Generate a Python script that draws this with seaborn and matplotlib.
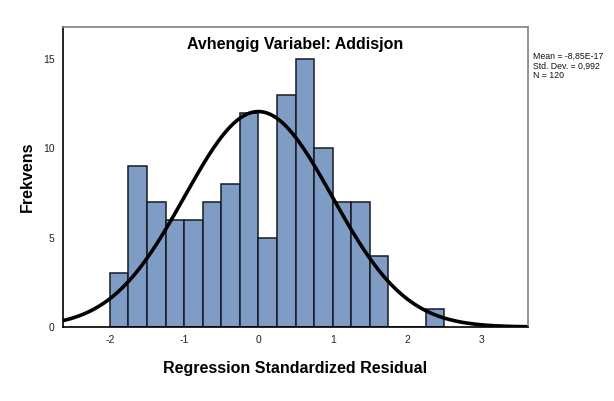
import numpy as np
import pandas as pd
import matplotlib
matplotlib.use("Agg")
import matplotlib.pyplot as plt
import seaborn as sns

# histogram bins (left edges, width 0.25) and counts
bin_left = [-2.0, -1.75, -1.5, -1.25, -1.0, -0.75, -0.5, -0.25, 0.0,
            0.25, 0.5, 0.75, 1.0, 1.25, 1.5, 1.75, 2.0, 2.25]
counts = [3, 9, 7, 6, 6, 7, 8, 12, 5, 13, 15, 10, 7, 7, 4, 0, 0, 1]
bin_width = 0.25

# summary stats shown at the right
mean = -8.85e-17
std = 0.992
n = 120

x_ticks = [-2, -1, 0, 1, 2, 3]
y_ticks = [0, 5, 10, 15]

sns.set_style("white")
plt.rcParams['font.family'] = ['Liberation Sans', 'DejaVu Sans']
plt.rcParams['axes.unicode_minus'] = False

df = pd.DataFrame({'mid': np.array(bin_left) + bin_width / 2, 'count': counts})
edges = list(bin_left) + [bin_left[-1] + bin_width]

fig = plt.figure(figsize=(6.14, 4.01), dpi=100)
ax = fig.add_axes([0.1026, 0.1845, 0.7574, 0.7482])

sns.histplot(data=df, x='mid', weights='count', bins=edges, ax=ax,
             color='#7f9cc4', alpha=1, edgecolor='#141a26', linewidth=1.1)

# normal curve scaled to counts
xs = np.linspace(-2.7, 3.7, 400)
ys = n * bin_width * np.exp(-0.5 * ((xs - mean) / std) ** 2) / (std * np.sqrt(2 * np.pi))
sns.lineplot(x=xs, y=ys, ax=ax, color='black', linewidth=2.6)

ax.set_xlim(-2.63, 3.63)
ax.set_ylim(0, 16.8)
ax.set_xticks(x_ticks)
ax.set_yticks(y_ticks)
ax.tick_params(axis='both', length=0, labelsize=7.5, colors='#222222', pad=6)

for side in ['top', 'right']:
    ax.spines[side].set_color('#808080')
    ax.spines[side].set_linewidth(1.2)
for side in ['left', 'bottom']:
    ax.spines[side].set_color('black')
    ax.spines[side].set_linewidth(1.2)

ax.set_title('Avhengig Variabel: Addisjon', fontsize=11.5, fontweight='bold', y=0.9, color='black')
ax.set_xlabel('Regression Standardized Residual', fontsize=11.5, fontweight='bold', labelpad=11, color='black')
ax.set_ylabel('Frekvens', fontsize=11.5, fontweight='bold', labelpad=6, color='black')

fig.text(0.868, 0.87, 'Mean = -8,85E-17\nStd. Dev. = 0,992\nN = 120',
         fontsize=6.3, va='top', ha='left', linespacing=1.05, color='#111111')

plt.savefig('out.png', dpi=100)
